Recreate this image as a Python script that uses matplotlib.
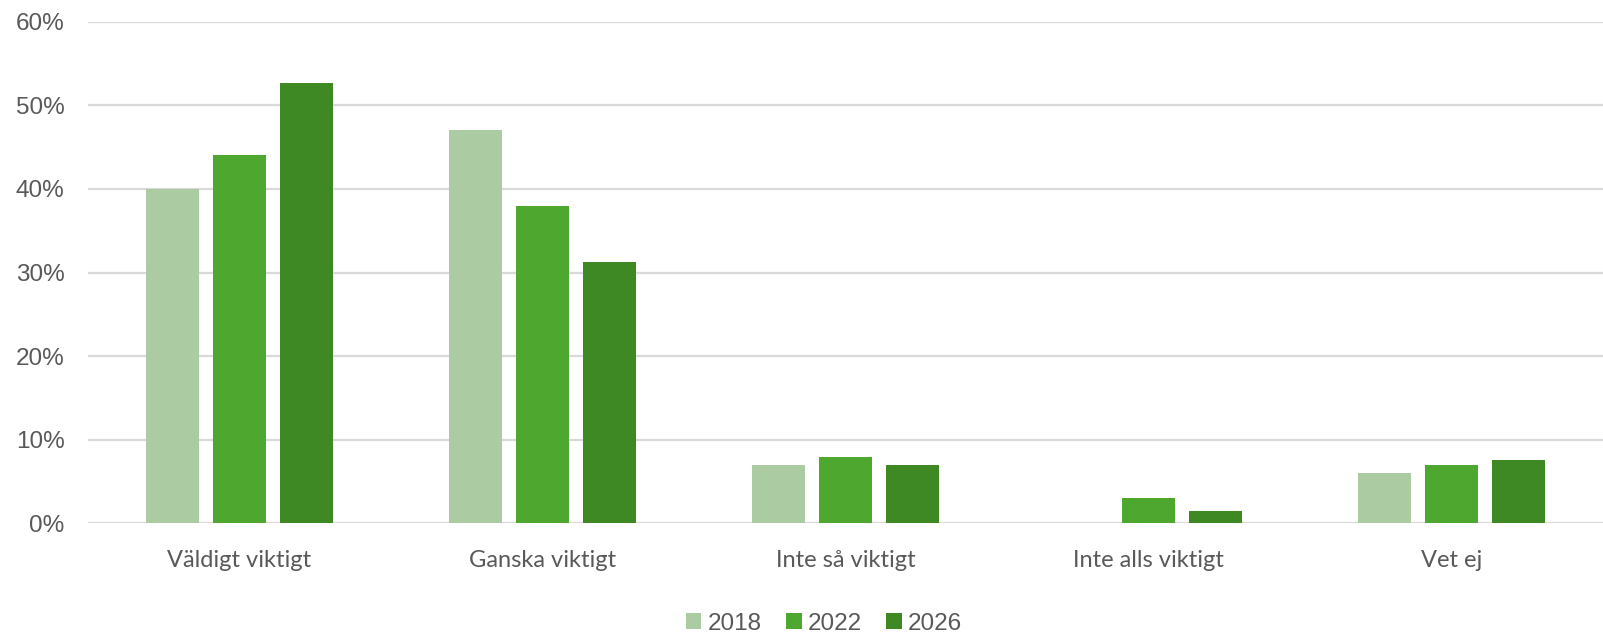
import numpy as np
import matplotlib.pyplot as plt
from matplotlib.ticker import PercentFormatter

categories = ["Väldigt viktigt", "Ganska viktigt", "Inte så viktigt", "Inte alls viktigt", "Vet ej"]
years = ["2018", "2022", "2026"]
v2018 = [40.0, 47.0, 7.0, 0.0, 6.0]
v2022 = [44.0, 38.0, 8.0, 3.0, 7.0]
v2026 = [52.7, 31.2, 7.0, 1.5, 7.6]
colors = ["#abcba2", "#4ea72e", "#3f8925"]

plt.rcParams['font.family'] = ['Liberation Sans', 'DejaVu Sans']

fig = plt.figure(figsize=(16.03, 6.35), dpi=100)
ax = fig.add_axes([0.0549, 0.1757, 0.9451, 0.7903])

x = np.arange(len(categories))
width = 0.175
step = 0.22
for i, (vals, year) in enumerate(zip([v2018, v2022, v2026], years)):
    ax.bar(x + (i - 1) * step, vals, width, color=colors[i], label=year, zorder=3)

ax.set_xlim(-0.5, len(categories) - 0.5)
ax.set_ylim(0, 60)
ax.set_yticks(range(0, 61, 10))
ax.yaxis.set_major_formatter(PercentFormatter(decimals=0))
ax.set_xticks(x)
ax.set_xticklabels(categories, family=['Lato', 'DejaVu Sans'], fontsize=17)
ax.tick_params(axis='both', length=0, labelcolor="#595959")
ax.tick_params(axis='y', labelsize=17.5, pad=17)
ax.tick_params(axis='x', pad=19)
ax.grid(axis='y', color="#d9d9d9", linewidth=1.6, zorder=0)
for s in ax.spines.values():
    s.set_visible(False)

leg = fig.legend(loc='center', bbox_to_anchor=(0.514, 0.018), ncol=3, frameon=False,
                 fontsize=17.5, handlelength=0.65, handleheight=0.65, handletextpad=0.25,
                 columnspacing=1.0)
for t in leg.get_texts():
    t.set_color("#595959")

fig.savefig("out.png", dpi=100)
